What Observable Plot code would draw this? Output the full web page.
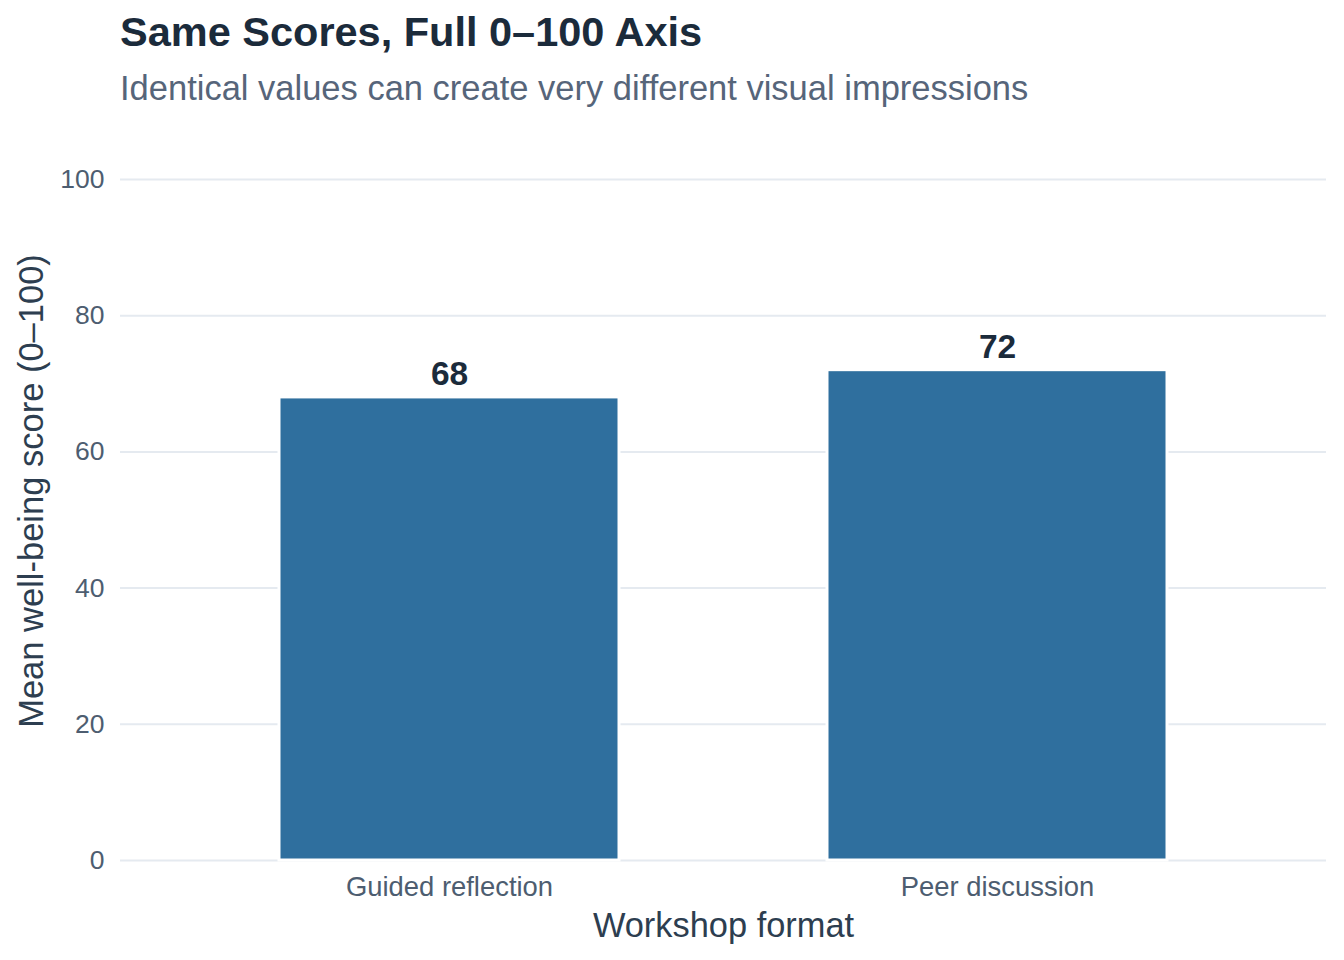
<!DOCTYPE html>
<html>
<head>
<meta charset="utf-8">
<script src="https://cdn.jsdelivr.net/npm/d3@7"></script>
<script src="https://cdn.jsdelivr.net/npm/@observablehq/plot@0.6"></script>
<style>
  html, body { margin: 0; padding: 0; background: #fff; }
  body { width: 1344px; height: 960px; overflow: hidden; font-family: "Liberation Sans", Arial, sans-serif; }
  #title { position: absolute; left: 120px; top: 8px; font-size: 41.5px; font-weight: bold; color: #1b2b3b; white-space: nowrap; }
  #subtitle { position: absolute; left: 120px; top: 69px; font-size: 34.5px; color: #56657a; white-space: nowrap; }
  #chart { position: absolute; left: 0; top: 130px; }
</style>
</head>
<body>
<div id="title">Same Scores, Full 0–100 Axis</div>
<div id="subtitle">Identical values can create very different visual impressions</div>
<div id="chart"></div>
<script>
const categories = ["Guided reflection", "Peer discussion"];
const scores = [68, 72];
const yTicks = [0, 20, 40, 60, 80, 100];
const xLabel = "Workshop format";
const yLabel = "Mean well-being score (0–100)";

const data = categories.map((c, i) => ({format: c, score: scores[i]}));

const chart = Plot.plot({
  width: 1344,
  height: 830,
  marginTop: 49,
  marginBottom: 100,
  marginLeft: 120,
  marginRight: 18,
  style: {fontFamily: "Liberation Sans, Arial, sans-serif", background: "white"},
  x: {domain: categories, paddingInner: 0.38, paddingOuter: 0.29, label: null},
  y: {domain: [0, 100], label: null},
  marks: [
    Plot.gridY(yTicks, {stroke: "#e5eaf0", strokeOpacity: 1, strokeWidth: 2}),
    Plot.barY(data, {x: "format", y: "score", fill: "#2f6f9e", stroke: "white", strokeWidth: 3}),
    Plot.text(data, {x: "format", y: "score", text: d => String(d.score), lineAnchor: "bottom", dy: -12, fontSize: 33.5, fontWeight: "bold", fill: "#1b2b3b"}),
    Plot.axisY({ticks: yTicks, tickSize: 0, tickPadding: 16, fontSize: 26.5, fill: "#4d5d70", label: null}),
    Plot.axisX({tickSize: 0, tickPadding: 16, fontSize: 27.4, fill: "#4d5d70", label: null}),
    Plot.text([xLabel], {frameAnchor: "bottom", dy: 65, fontSize: 34.4, fill: "#2d3e50", lineAnchor: "middle"}),
    Plot.text([yLabel], {frameAnchor: "left", textAnchor: "middle", dx: -89, dy: -29, rotate: -90, fontSize: 34.5, fill: "#2d3e50", lineAnchor: "middle"})
  ]
});
document.getElementById("chart").appendChild(chart);
</script>
</body>
</html>
